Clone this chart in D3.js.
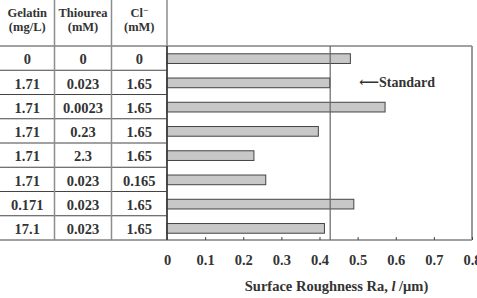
<!DOCTYPE html>
<html>
<head>
<meta charset="utf-8">
<script src="https://cdn.jsdelivr.net/npm/d3@7"></script>
<style>
  body { margin: 0; background: #fff; }
  text { font-family: "Liberation Serif", "DejaVu Serif", serif; font-weight: bold; fill: #333; }
</style>
</head>
<body>
<svg width="477" height="298"></svg>
<script>
// table columns + values
const gelatin = ["0", "1.71", "1.71", "1.71", "1.71", "1.71", "0.171", "17.1"];
const thiourea = ["0", "0.023", "0.0023", "0.23", "2.3", "0.023", "0.023", "0.023"];
const chloride = ["0", "1.65", "1.65", "1.65", "1.65", "0.165", "1.65", "1.65"];
const roughness = [0.481, 0.427, 0.572, 0.397, 0.228, 0.259, 0.490, 0.413];
const standardValue = 0.428;
const xTicks = [0, 0.1, 0.2, 0.3, 0.4, 0.5, 0.6, 0.7, 0.8];

const svg = d3.select("svg");
const margin = { top: 46, right: 5, bottom: 58, left: 167 };
const width = +svg.attr("width") - margin.left - margin.right;
const height = +svg.attr("height") - margin.top - margin.bottom;

const rows = d3.range(roughness.length);

const x = d3.scaleLinear()
    .domain([0, 0.8])
    .range([margin.left, margin.left + width]);

const y = d3.scaleBand()
    .domain(rows)
    .range([margin.top, margin.top + height]);

// table column boundaries
const colX = [0, 54.5, 111.5, margin.left];

// header
const headers = [["Gelatin", "(mg/L)"], ["Thiourea", "(mM)"], ["Cl", "(mM)"]];
headers.forEach((h, i) => {
    const cx = (colX[i] + colX[i + 1]) / 2;
    const t = svg.append("text")
        .attr("x", cx)
        .attr("y", 16.5)
        .attr("text-anchor", "middle")
        .attr("font-size", "12.5px");
    t.append("tspan").text(h[0]);
    if (i === 2) {
        t.append("tspan").attr("dy", -4).attr("font-size", "9px").text("\u2212");
    }
    svg.append("text")
        .attr("x", cx)
        .attr("y", 30.5)
        .attr("text-anchor", "middle")
        .attr("font-size", "12.5px")
        .text(h[1]);
});

// table body
[gelatin, thiourea, chloride].forEach((col, i) => {
    const cx = (colX[i] + colX[i + 1]) / 2;
    svg.append("g").selectAll("text")
        .data(col)
        .join("text")
        .attr("x", cx)
        .attr("y", (d, j) => y(j) + y.bandwidth() / 2 + 6.3)
        .attr("text-anchor", "middle")
        .attr("font-size", "14.5px")
        .text(d => d);
});

// table lines
const lines = svg.append("g");
lines.selectAll("line.row")
    .data(rows.concat([rows.length]))
    .join("line")
    .attr("class", "row")
    .attr("x1", 0)
    .attr("x2", d => (d === 0 || d === rows.length) ? x(0.8) : margin.left)
    .attr("y1", d => d === rows.length ? margin.top + height : y(d))
    .attr("y2", d => d === rows.length ? margin.top + height : y(d))
    .attr("stroke", "#444")
    .attr("stroke-width", 1.2);

lines.selectAll("line.col")
    .data(colX.slice(1))
    .join("line")
    .attr("class", "col")
    .attr("x1", d => d)
    .attr("x2", d => d)
    .attr("y1", 0)
    .attr("y2", margin.top + height)
    .attr("stroke", "#8c8c8c")
    .attr("stroke-width", 1.5);

// bars
const barH = y.bandwidth() * 0.4;
svg.append("g").selectAll("rect")
    .data(roughness)
    .join("rect")
    .attr("x", x(0))
    .attr("y", (d, i) => y(i) + (y.bandwidth() - barH) / 2 + 0.5)
    .attr("width", d => x(d) - x(0))
    .attr("height", barH)
    .attr("fill", "#c8c8c8")
    .attr("stroke", "#444")
    .attr("stroke-width", 1);

// standard line
svg.append("line")
    .attr("x1", x(standardValue))
    .attr("x2", x(standardValue))
    .attr("y1", margin.top)
    .attr("y2", margin.top + height)
    .attr("stroke", "#666")
    .attr("stroke-width", 1.2);

svg.append("text")
    .attr("x", 359)
    .attr("y", 87)
    .attr("font-size", "14px")
    .text("\u27f5Standard");

// plot frame
svg.append("line")
    .attr("x1", x(0.8)).attr("x2", x(0.8))
    .attr("y1", margin.top).attr("y2", margin.top + height)
    .attr("stroke", "#999").attr("stroke-width", 2);
svg.append("line")
    .attr("x1", x(0)).attr("x2", x(0))
    .attr("y1", margin.top).attr("y2", margin.top + height)
    .attr("stroke", "#333").attr("stroke-width", 1.5);

// x axis
const xAxis = d3.axisBottom(x)
    .tickValues(xTicks)
    .tickFormat(d => d === 0 ? "0" : d3.format(".1f")(d))
    .tickSize(-3)
    .tickPadding(15);

const gx = svg.append("g")
    .attr("transform", "translate(0," + (margin.top + height) + ")")
    .call(xAxis);
gx.select(".domain").remove();
gx.selectAll("line").attr("stroke", "#444");
gx.selectAll("text")
    .attr("font-size", "14.5px")
    .attr("fill", "#333");
gx.attr("font-family", null);

// axis title
const title = svg.append("text")
    .attr("x", (x(0) + x(0.8)) / 2 + 17)
    .attr("y", 291)
    .attr("text-anchor", "middle")
    .attr("font-size", "14.5px");
title.append("tspan").text("Surface Roughness Ra, ");
title.append("tspan").attr("font-style", "italic").text("l");
title.append("tspan").text(" /\u03bcm)");
</script>
</body>
</html>
